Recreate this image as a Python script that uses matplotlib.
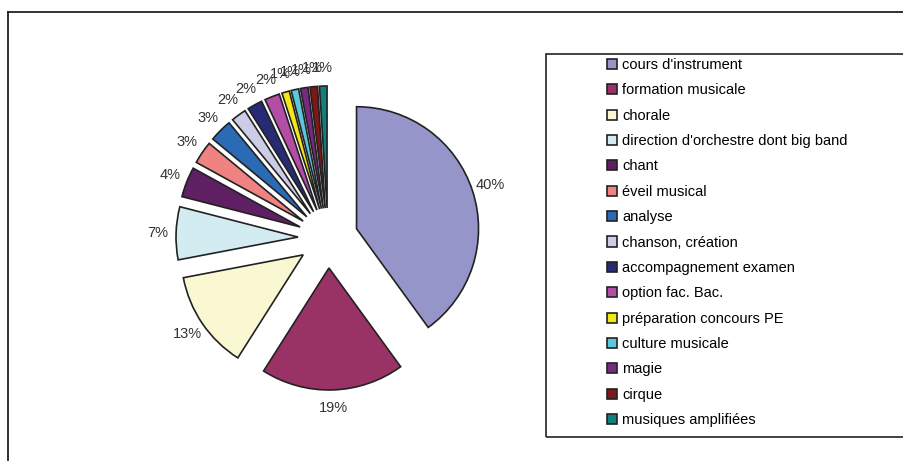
import matplotlib.pyplot as plt
from matplotlib.patches import Rectangle

plt.rcParams['font.family'] = ['Liberation Sans', 'DejaVu Sans']

# Data
labels = ["cours d'instrument", "formation musicale", "chorale",
          "direction d'orchestre dont big band", "chant", "éveil musical",
          "analyse", "chanson, création", "accompagnement examen",
          "option fac. Bac.", "préparation concours PE", "culture musicale",
          "magie", "cirque", "musiques amplifiées"]
values = [40, 19, 13, 7, 4, 3, 3, 2, 2, 2, 1, 1, 1, 1, 1]
colors = ["#9595C9", "#993366", "#FAF8D2", "#D3ECF2", "#5F1F63", "#F08282",
          "#2B6BB5", "#CDCCE6", "#272B73", "#B34DA6", "#F2E818", "#5CC8DB",
          "#782A82", "#7E1719", "#127F7F"]

W, H = 904, 461
fig = plt.figure(figsize=(W / 100, H / 100), dpi=100)
ax = fig.add_axes([0, 0, 1, 1])

# explode is in data units (= pixels here)
wedges, texts, autotexts = ax.pie(
    values, colors=colors, explode=[30] * len(values),
    startangle=90, counterclock=False,
    center=(328, H - 238), radius=122,
    autopct='%1.0f%%', pctdistance=1.15,
    wedgeprops=dict(edgecolor='#222222', linewidth=1.2),
    textprops=dict(fontsize=10.5, color='#333333'))

ax.set_xlim(0, W)
ax.set_ylim(0, H)
ax.set_aspect('equal')
ax.axis('off')

# chart frame (cropped on the right / bottom)
frame = dict(color='#222222', lw=1.3, clip_on=False)
ax.plot([8, 8], [0, H - 12], **frame)
ax.plot([8, W], [H - 12, H - 12], **frame)

# legend box (right side cropped)
ax.add_patch(Rectangle((546, H - 437), W + 10 - 546, 383, fill=False,
                       edgecolor='#222222', lw=1.2, clip_on=True))

fig.legend(wedges, labels, loc='upper left',
           bbox_to_anchor=(607 / W, 1 - 58 / H),
           frameon=False, fontsize=10.5, handlelength=0.7, handleheight=0.7,
           handletextpad=0.35, labelspacing=0.78,
           borderpad=0, borderaxespad=0)

plt.savefig("out.png", dpi=100)
plt.close()
